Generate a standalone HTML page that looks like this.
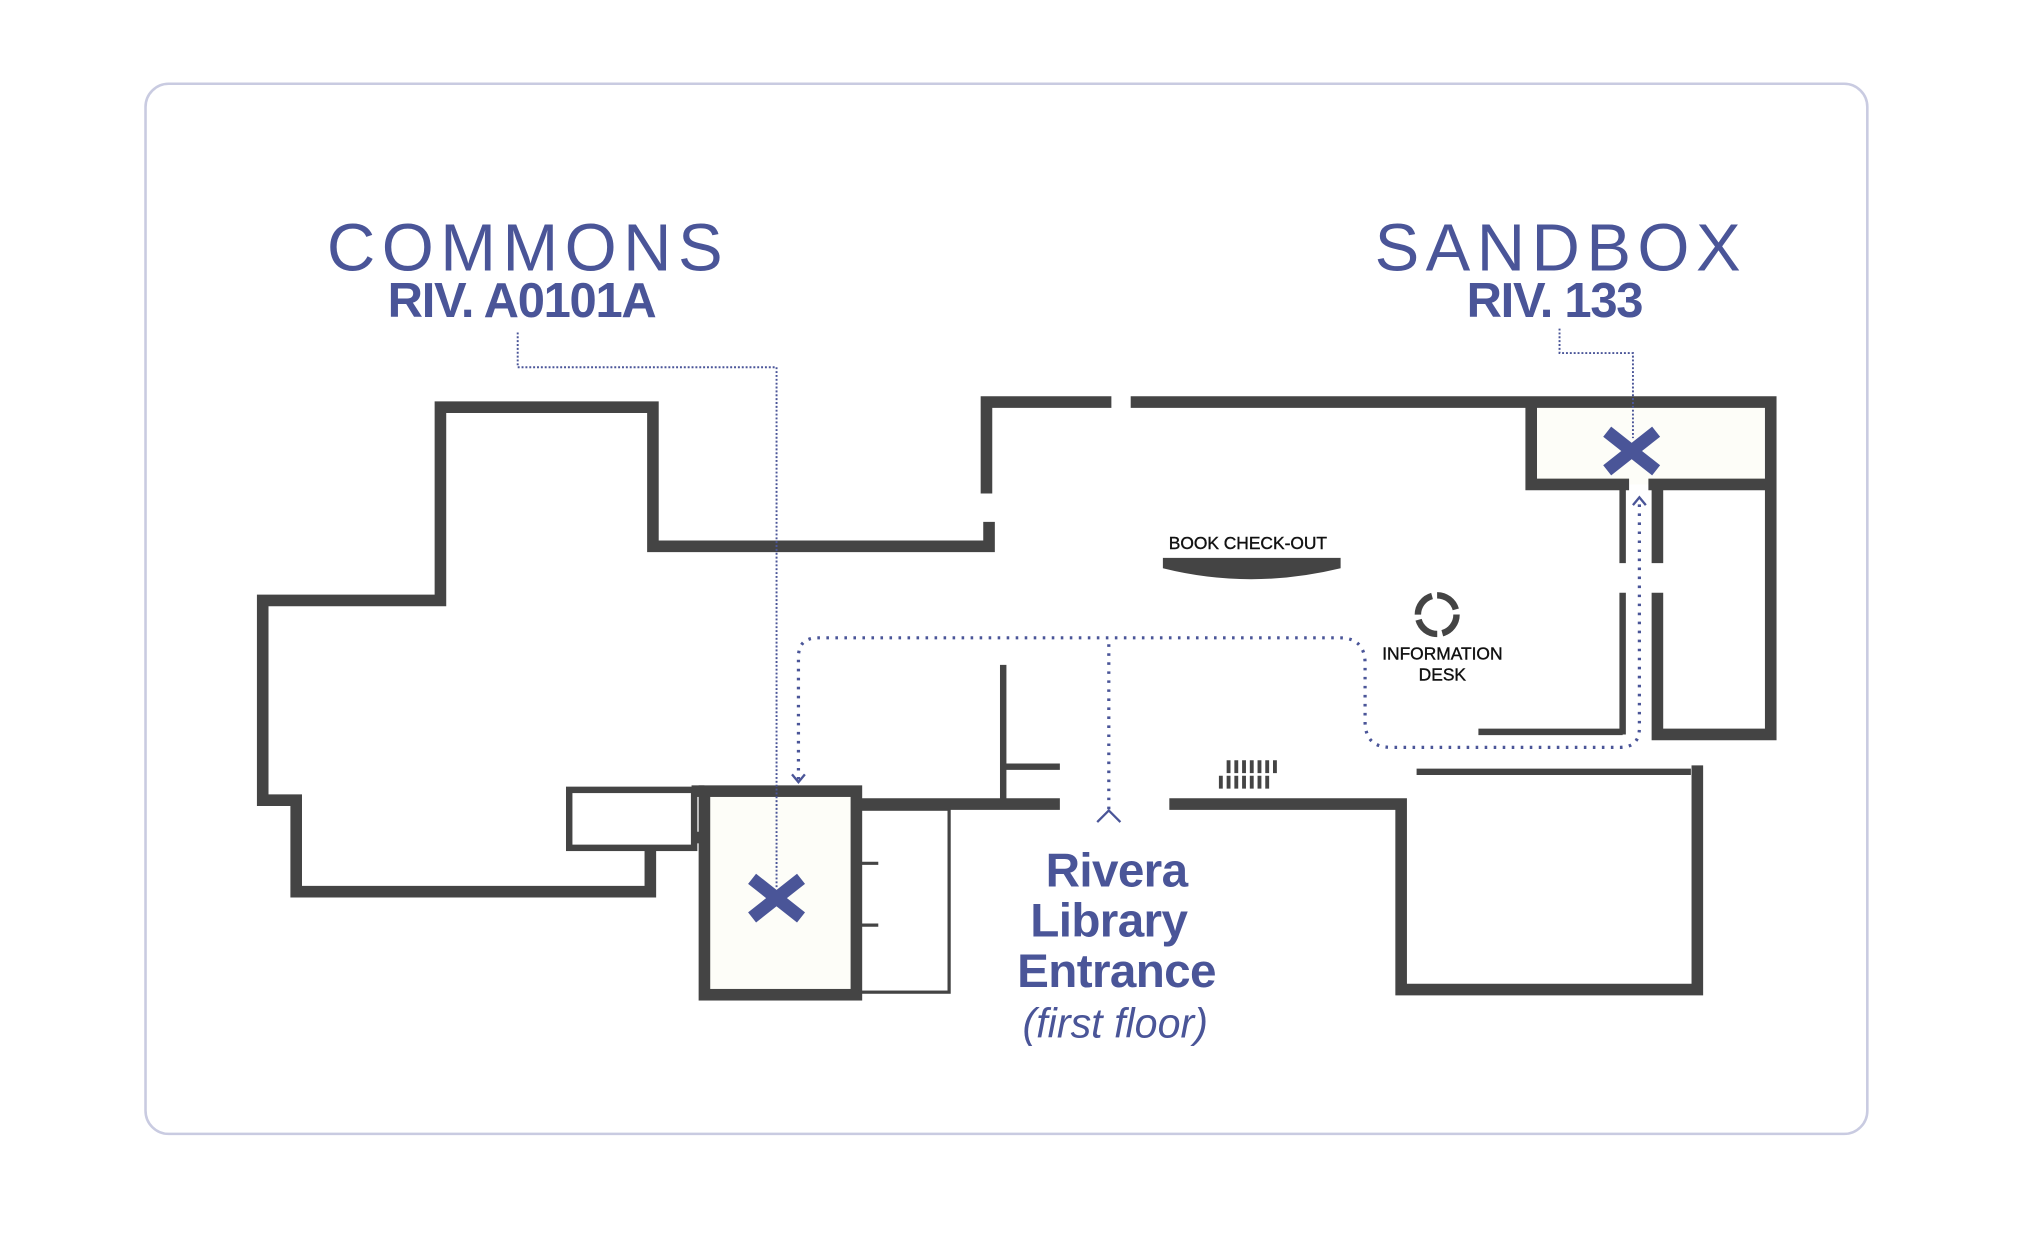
<!DOCTYPE html>
<html><head><meta charset="utf-8"><style>
html,body{margin:0;padding:0;background:#fff;}
svg{display:block;}
</style></head><body>
<svg width="2018" height="1246" viewBox="0 0 1567 967" preserveAspectRatio="none" xmlns="http://www.w3.org/2000/svg" font-family="Liberation Sans, Arial, sans-serif">
<rect x="113" y="65" width="1337" height="815" rx="18" fill="#fff" stroke="#c9cbe1" stroke-width="2"/>
<rect x="547" y="614" width="118" height="158" fill="#fdfdf8"/>
<rect x="1189" y="312" width="181" height="64" fill="#fdfdf8"/>
<g fill="none" stroke="#444" stroke-width="9" stroke-linejoin="miter">
<polyline points="768,405 768,424 507,424 507,316 342,316 342,466 204,466 204,621 230,621 230,692 505,692 505,660"/>
<polyline points="766,383 766,312 863,312"/>
<polyline points="878,312 1375,312 1375,570 1287,570 1287,460"/>
<line x1="1287" y1="437" x2="1287" y2="377"/>
<polyline points="1189,312 1189,376 1265,376"/>
<line x1="1280" y1="376" x2="1372" y2="376"/>
<rect x="547" y="614" width="118" height="158"/>
<line x1="665" y1="624" x2="823" y2="624"/>
<polyline points="908,624 1088,624 1088,768 1318,768 1318,594"/>
<line x1="537" y1="614" x2="547" y2="614"/>
<line x1="537" y1="650" x2="547" y2="650"/>
</g>
<g fill="none" stroke="#444" stroke-width="5">
<line x1="1260" y1="380" x2="1260" y2="437"/>
<line x1="1260" y1="460" x2="1260" y2="570"/>
<line x1="1148" y1="568" x2="1260" y2="568"/>
<line x1="1100" y1="599" x2="1313" y2="599"/>
<rect x="442" y="613" width="97" height="45"/>
<line x1="779" y1="516" x2="779" y2="624"/>
<line x1="779" y1="595" x2="823" y2="595"/>
</g>
<g fill="none" stroke="#444" stroke-width="2.5">
<rect x="665" y="628" width="72" height="142"/>
<line x1="665" y1="670" x2="682" y2="670"/>
<line x1="665" y1="718" x2="682" y2="718"/>
</g>
<g stroke="#444" stroke-width="3">
<path d="M954 590v10M960 590v10M966 590v10M972 590v10M978 590v10M984 590v10M990 590v10M948 602v10M954 602v10M960 602v10M966 602v10M972 602v10M978 602v10M984 602v10"/>
</g>
<path d="M903 433 H1041 V441 Q971 458 903 441 Z" fill="#444"/>
<text x="969" y="426" font-size="13.5" text-anchor="middle" fill="#111" stroke="#111" stroke-width="0.3">BOOK CHECK-OUT</text>
<circle cx="1116" cy="477" r="15" fill="none" stroke="#444" stroke-width="5" stroke-dasharray="19.5 4"/>
<text x="1120" y="512" font-size="13.5" text-anchor="middle" fill="#111" stroke="#111" stroke-width="0.3">INFORMATION</text>
<text x="1120" y="528" font-size="13.5" text-anchor="middle" fill="#111" stroke="#111" stroke-width="0.3">DESK</text>
<g fill="none" stroke="#4a5598" stroke-width="2.5" stroke-dasharray="2 5">
<path d="M861 628 V495"/>
<path d="M620 605 V510 Q620 495 635 495 H1040 Q1060 495 1060 515 V560 Q1060 580 1080 580 H1258 Q1273 580 1273 565 V390"/>
</g>
<g fill="none" stroke="#4a5598" stroke-width="1.5" stroke-dasharray="1.5 1.5">
<path d="M402 258 V285 H603 V690"/>
<path d="M1211 255 V274 H1268 V340"/>
</g>
<g fill="none" stroke="#4a5598" stroke-width="1.8">
<polyline points="852,638 861,629 870,638"/>
<polyline points="615,601 620,607 625,601"/>
<polyline points="1268,392 1273,386 1278,392"/>
</g>
<g stroke="#4a5598" stroke-width="10">
<path d="M584 682 L622 712 M622 682 L584 712"/>
<path d="M1248 335 L1286 365 M1286 335 L1248 365"/>
</g>
<text x="410" y="210" font-size="52" text-anchor="middle" fill="#4a5598" letter-spacing="5">COMMONS</text>
<text x="405" y="246" font-size="38" font-weight="bold" text-anchor="middle" fill="#4a5598" letter-spacing="-1">RIV. A0101A</text>
<text x="1212" y="210" font-size="52" text-anchor="middle" fill="#4a5598" letter-spacing="5">SANDBOX</text>
<text x="1207" y="246" font-size="38" font-weight="bold" text-anchor="middle" fill="#4a5598" letter-spacing="-1">RIV. 133</text>
<g font-size="37" font-weight="bold" text-anchor="middle" fill="#4a5598" letter-spacing="-0.5">
<text x="867" y="688">Rivera</text>
<text x="861" y="727">Library</text>
<text x="867" y="766">Entrance</text>
</g>
<text x="866" y="805" font-size="32" font-style="italic" text-anchor="middle" fill="#4a5598">(first floor)</text>
</svg>
</body></html>
